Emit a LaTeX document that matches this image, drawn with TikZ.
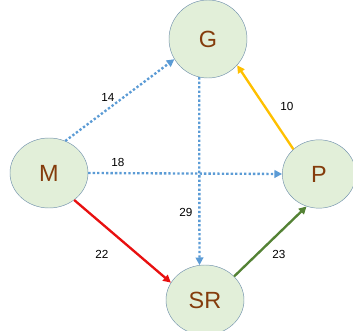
\documentclass[tikz,border=0pt]{standalone}
\usepackage{fontspec}
\setmainfont{Liberation Sans}
\usepackage{tikz}
\usepackage{xcolor}
\usetikzlibrary{shapes.geometric,arrows.meta,positioning}

\definecolor{nodefill}{HTML}{E2EFD9}
\definecolor{nodeline}{HTML}{7393AD}
\definecolor{nodetext}{HTML}{843C0C}
\definecolor{linkblue}{HTML}{5B9BD5}
\definecolor{linkorange}{HTML}{FFC000}
\definecolor{linkred}{HTML}{E81010}
\definecolor{linkgreen}{HTML}{548235}

\begin{document}
\begin{tikzpicture}[x=0.03cm, y=0.03cm,
        place/.style={ellipse, draw=nodeline, fill=nodefill, inner sep=0pt,
            minimum width=2.34cm, minimum height=2.1cm,
            text=nodetext, font=\fontsize{20}{22}\selectfont},
        link/.style={line width=2pt, -{Triangle[length=6.5pt, width=6.5pt]}},
        dotlink/.style={link, linkblue, dash pattern=on 2pt off 1.8pt},
        weight/.style={font=\fontsize{10}{12}\selectfont}]
        \useasboundingbox (0,0) rectangle (353,331);

        \node[place, minimum height=2.34cm] (G) at (208,292) {G};
        \node[place] (M) at (49,158) {M};
        \node[place, minimum width=2.2cm, minimum height=2.05cm] (P) at (319,157) {P};
        \node[place] (SR) at (205,31) {SR};

        \draw[dotlink] (M.63) -- (G.211);
        \draw[dotlink] (M.east) -- (P.west);
        \draw[dotlink] (G.257) -- (SR.99);
        \draw[link, linkorange] (P.136) -- (G.318);
        \draw[link, linkred] (M.313) -- (SR.153);
        \draw[link, linkgreen] (SR.39) -- (P.249);

        \node[weight] (w14) at (108,234) {14};
        \node[weight] (w10) at (287,225) {10};
        \node[weight] (w18) at (118,169) {18};
        \node[weight] (w29) at (186,119) {29};
        \node[weight] (w22) at (102,77) {22};
        \node[weight] (w23) at (279,77) {23};
    \end{tikzpicture}
\end{document}
